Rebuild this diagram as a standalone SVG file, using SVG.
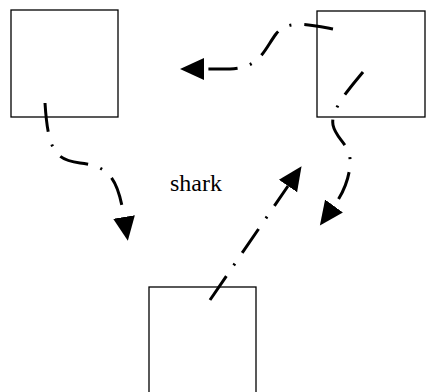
<svg xmlns="http://www.w3.org/2000/svg" width="427" height="392" viewBox="0 0 427 392">
<style>
.box{fill:none;stroke:#000;stroke-width:1.3}
.edge{fill:none;stroke:#000;stroke-width:3;stroke-dasharray:29,13,2,13}
.lbl{font-family:"Liberation Serif","Times New Roman",serif;font-size:24px;fill:#000}
</style>
<defs>
<marker id="ah" markerUnits="userSpaceOnUse" markerWidth="26" markerHeight="26" refX="0" refY="11" orient="auto" viewBox="0 0 26 22">
<path d="M0,0 L24,11 L0,22 z" fill="#000"/>
</marker>
</defs>
<rect width="427" height="392" fill="#fff"/>
<g id="node-a"><rect class="box" x="11" y="10" width="107" height="107"/></g>
<g id="node-b"><rect class="box" x="317" y="11" width="108" height="106"/></g>
<g id="node-c"><rect class="box" x="149" y="287" width="107" height="107"/></g>
<g id="label"><text class="lbl" x="170" y="191">shark</text></g>
<g id="connectors">
<path class="edge" d="M45,103 C48,150 55,160 80,163 C110,166 118,180 124,217" marker-end="url(#ah)"/>
<path class="edge" d="M333,29 C305,24 287,20 276,34 C264,50 260,68 230,69 L204,69" marker-end="url(#ah)"/>
<path class="edge" d="M363,72 C350,88 330,110 333,125 C336,140 352,145 350,165 C349,180 342,195 334,206" marker-end="url(#ah)"/>
<path class="edge" d="M210,300 L288,186" marker-end="url(#ah)"/>
</g>
</svg>
